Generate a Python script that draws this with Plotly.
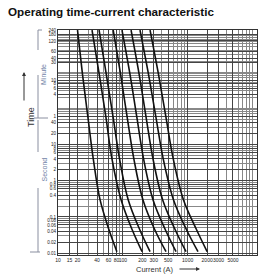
import plotly.graph_objects as go

# ---------------- data ----------------
times_s = [14400, 800, 55, 4, 0.3, 0.045, 0.011]
curve_names = ["BL C051-1", "BL C050-1", "BL C053-1", "BL C060-1",
               "BL C080-1", "BL C100-1", "BL C125-1", "BL C160-1"]
curve_currents = [
    [20, 24, 29, 35, 44.5, 61, 81],
    [33.5, 43.6, 55, 68, 94, 139, 198],
    [43, 56, 71, 89, 121, 182, 263],
    [71, 93, 117, 148, 204, 310, 464],
    [97, 130, 165, 209, 292, 451, 662],
    [134, 180, 229, 292, 411, 640, 944],
    [184, 251, 325, 420, 604, 957, 1445],
    [263, 358, 464, 600, 861, 1368, 2000],
]
x_tick_vals = [10, 15, 20, 40, 60, 80, 100, 200, 300, 500, 1000, 2000, 3000, 5000]
x_tick_text = ["10", "15", "20", "40", "60", "80", "100", "200", "300", "500",
               "1000", "2000", "3000", "5000"]
y_tick_vals = [14400, 10800, 7200, 3600, 2400, 1800, 600, 480, 360, 240, 60,
               40, 20, 10, 8, 6, 4, 2, 1, 0.8, 0.6, 0.4, 0.1, 0.08, 0.06, 0.04, 0.02, 0.01]
y_tick_text = ["240", "180", "120", "60", "40", "30", "10", "8", "6", "4", "1",
               "40", "20", "10", "8", "6", "4", "2", "1", "0.8", "0.6", "0.4",
               "0.1", "0.08", "0.06", "0.04", "0.02", "0.01"]

fig = go.Figure()
for name, cur in zip(curve_names, curve_currents):
    fig.add_trace(go.Scatter(x=cur, y=times_s, mode="lines", name=name,
                             line=dict(color="#111111", width=1.6, shape="spline"),
                             showlegend=False, hoverinfo="skip"))
    fig.add_annotation(x=cur[0], y=3600, xref="x", yref="y", text=name,
                       textangle=-90, showarrow=False, xshift=-5,
                       font=dict(size=5, color="#222222", family="Liberation Sans"),
                       bgcolor="white", borderpad=0)

W, H = 266, 275
L, R, T, B = 58, 9, 30, 20
PW, PH = W - L - R, H - T - B

fig.update_layout(
    width=W, height=H,
    margin=dict(l=L, r=R, t=T, b=B, autoexpand=False),
    paper_bgcolor="white", plot_bgcolor="white",
    font=dict(family="Liberation Sans", color="#222222"),
    title=dict(text="<b>Operating time-current characteristic</b>",
               x=8 / W, xanchor="left", y=1 - 12 / H, yanchor="middle",
               font=dict(size=11.7, color="#111111", family="Liberation Sans")),
)
fig.update_xaxes(type="log", range=[1, 4.07],
                 tickmode="array", tickvals=x_tick_vals, ticktext=x_tick_text,
                 tickfont=dict(size=5, color="#222222"), ticks="", tickangle=0,
                 showgrid=True, gridcolor="#444444", gridwidth=1,
                 minor=dict(dtick="D1", showgrid=True, gridcolor="#888888", gridwidth=0.8),
                 showline=True, linecolor="#333333", linewidth=1, mirror=True,
                 zeroline=False)
fig.update_yaxes(type="log", range=[-2.05, 4.16],
                 tickmode="array", tickvals=y_tick_vals, ticktext=y_tick_text,
                 tickfont=dict(size=4.6, color="#222222"), ticks="",
                 showgrid=True, gridcolor="#444444", gridwidth=1,
                 minor=dict(dtick="D1", showgrid=True, gridcolor="#888888", gridwidth=0.8),
                 showline=True, linecolor="#333333", linewidth=1, mirror=True,
                 zeroline=False)

def px(xp):
    return (xp - L) / PW

def py(yp):
    return (H - B - yp) / PH

fig.add_annotation(xref="paper", yref="paper", x=px(155), y=py(269),
                   text="Current (A)", showarrow=False, xanchor="center", yanchor="middle",
                   font=dict(size=7.5, color="#333333"))
fig.add_annotation(xref="paper", yref="paper", x=px(200), y=py(269),
                   ax=-22, ay=0, axref="pixel", ayref="pixel",
                   text="", showarrow=True, arrowhead=2, arrowsize=0.8,
                   arrowwidth=1, arrowcolor="#333333")
fig.add_annotation(xref="paper", yref="paper", x=px(24), y=py(117),
                   text="Time", textangle=-90, showarrow=False,
                   font=dict(size=9, color="#333333"))
fig.add_annotation(xref="paper", yref="paper", x=px(24), y=py(72),
                   ax=0, ay=30, axref="pixel", ayref="pixel",
                   text="", showarrow=True, arrowhead=2, arrowsize=0.8,
                   arrowwidth=1, arrowcolor="#333333")
fig.add_annotation(xref="paper", yref="paper", x=px(38), y=py(62),
                   text="Minute", textangle=-90, showarrow=False,
                   font=dict(size=7, color="#6f7fa6"))
fig.add_annotation(xref="paper", yref="paper", x=px(38), y=py(170),
                   text="Second", textangle=-90, showarrow=False,
                   font=dict(size=7, color="#6f7fa6"))

line_c = "#8a8fa0"
segs = [
    (38, 30, 38, 50), (38, 30, 42, 30), (38, 75, 38, 118), (34, 118, 48, 118),
    (38, 120, 38, 152), (38, 188, 38, 252), (30, 252, 40, 252),
]
for x0, y0, x1, y1 in segs:
    fig.add_shape(type="line", xref="paper", yref="paper",
                  x0=px(x0), y0=py(y0), x1=px(x1), y1=py(y1),
                  line=dict(color=line_c, width=1))

fig.write_html("out.html")
